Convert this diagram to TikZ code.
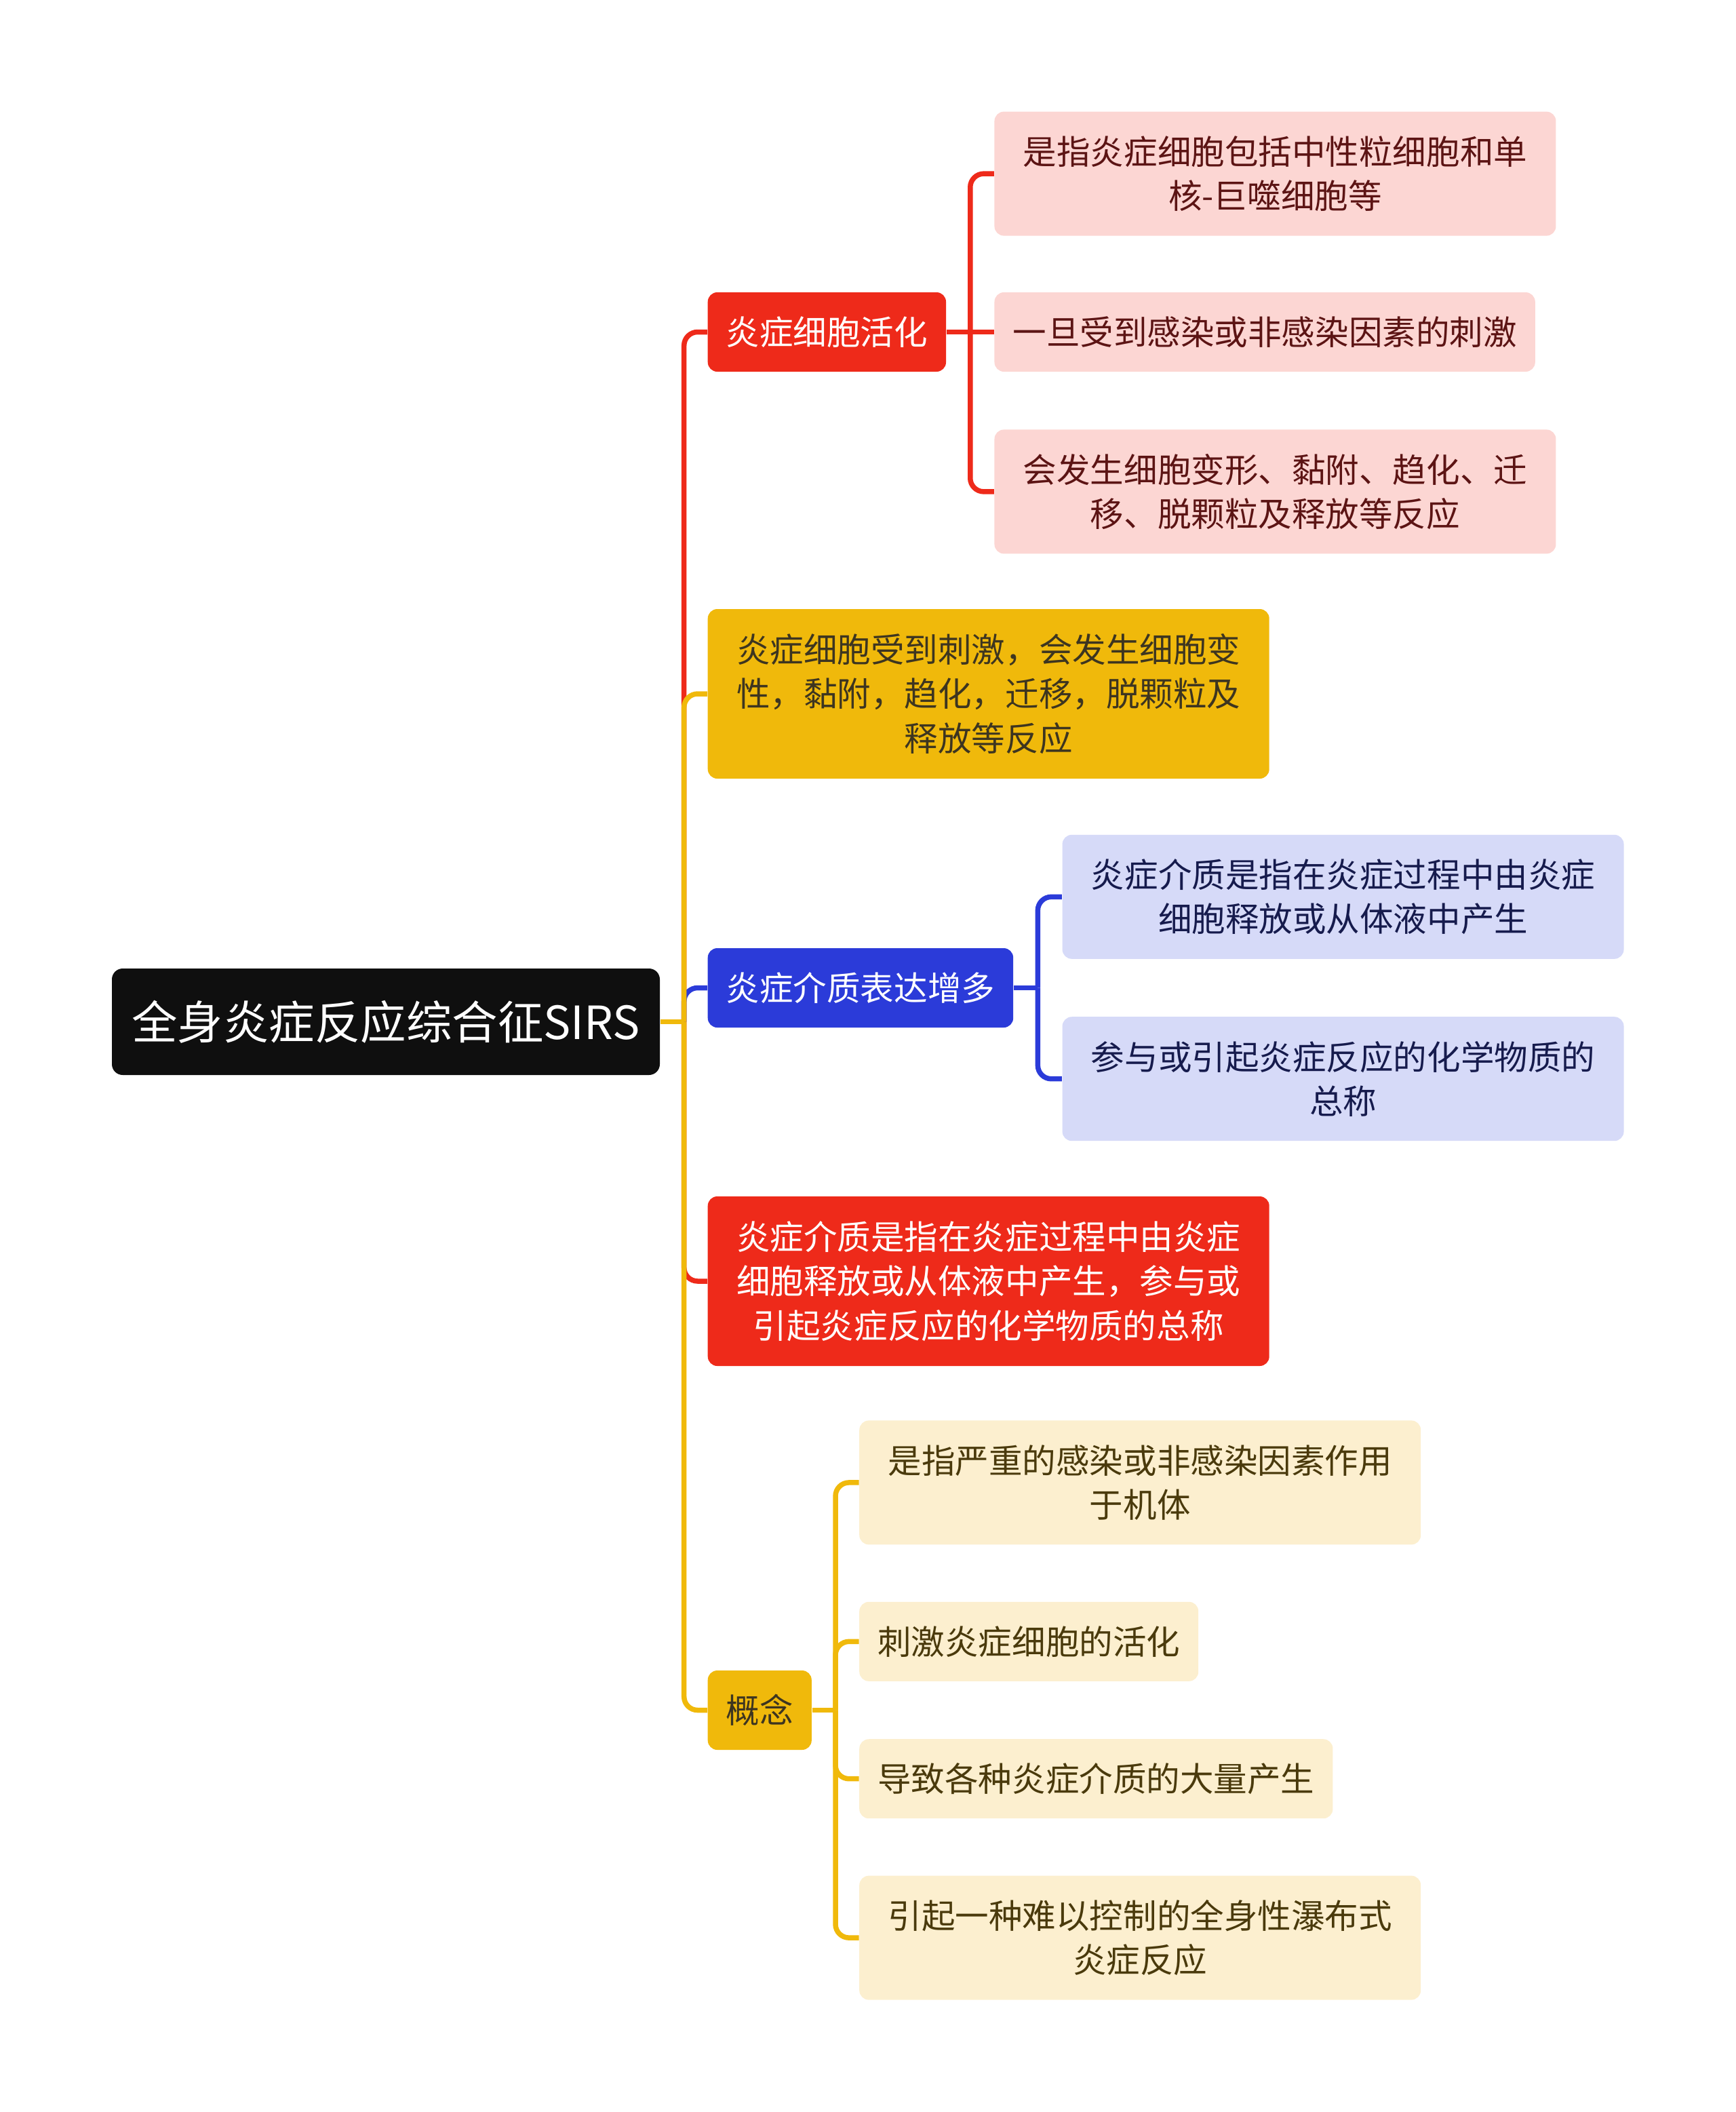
\documentclass[tikz,border=0pt]{standalone}
\usepackage{fontspec}
\setmainfont{Noto Sans CJK SC}
\usepackage{tikz}
\usetikzlibrary{positioning}

\definecolor{redc}{HTML}{EE2A1A}
\definecolor{yellowc}{HTML}{F0B90B}
\definecolor{bluec}{HTML}{2B3BD9}
\definecolor{rootc}{HTML}{0F0F0F}
\definecolor{pinkc}{HTML}{FCD6D3}
\definecolor{lavc}{HTML}{D6DAF8}
\definecolor{creamc}{HTML}{FCEFCF}
\definecolor{pinktext}{HTML}{5C1414}
\definecolor{lavtext}{HTML}{161B4D}
\definecolor{creamtext}{HTML}{4A3A0C}
\definecolor{darktext}{HTML}{3D3520}

\begin{document}
\begin{tikzpicture}[
    node distance=0.83cm and 0.70cm,
    every node/.style={font=\fontsize{14.1pt}{18.6pt}\selectfont},
    card/.style={rounded corners=0.14cm, align=center, inner xsep=0.27cm, inner ysep=0.1cm, minimum height=1.17cm},
    wide/.style={minimum width=8.28cm},
    lines2/.style={minimum height=1.83cm},
    lines3/.style={minimum height=2.5cm},
    central/.style={card, fill=rootc, text=white, font=\fontsize{19.2pt}{24pt}\selectfont, minimum width=8.08cm, minimum height=1.57cm, rounded corners=0.16cm},
    redtopic/.style={card, fill=redc, text=white},
    yellowtopic/.style={card, fill=yellowc, text=darktext},
    bluetopic/.style={card, fill=bluec, text=white},
    pinkleaf/.style={card, fill=pinkc, text=pinktext},
    lavleaf/.style={card, fill=lavc, text=lavtext},
    creamleaf/.style={card, fill=creamc, text=creamtext},
    link/.style={line width=0.075cm, rounded corners=0.2cm}
]
\useasboundingbox (0,0) rectangle (25.6,-31.14);

% centre and first level
\node[central] (sirs) at (5.69,-15.065) {全身炎症反应综合征SIRS};
\node[redtopic, anchor=west] (act) at (10.43,-4.895) {炎症细胞活化};
\node[yellowtopic, wide, lines3, anchor=west] (stim) at (10.43,-10.23) {炎症细胞受到刺激，会发生细胞变\\性，黏附，趋化，迁移，脱颗粒及\\释放等反应};
\node[bluetopic, anchor=west] (med) at (10.43,-14.565) {炎症介质表达增多};
\node[redtopic, wide, lines3, anchor=west] (def) at (10.43,-18.89) {炎症介质是指在炎症过程中由炎症\\细胞释放或从体液中产生，参与或\\引起炎症反应的化学物质的总称};
\node[yellowtopic, anchor=west] (concept) at (10.43,-25.215) {概念};

% second level
\node[pinkleaf, right=of act] (a2) {一旦受到感染或非感染因素的刺激};
\node[pinkleaf, wide, lines2, above right=0.82cm and 0cm of a2.north west] (a1) {是指炎症细胞包括中性粒细胞和单\\核-巨噬细胞等};
\node[pinkleaf, wide, lines2, below right=0.84cm and 0cm of a2.south west] (a3) {会发生细胞变形、黏附、趋化、迁\\移、脱颗粒及释放等反应};

\node[lavleaf, wide, lines2, above right=0.42cm and 0.71cm of med.east] (m1) {炎症介质是指在炎症过程中由炎症\\细胞释放或从体液中产生};
\node[lavleaf, wide, lines2, below right=0.42cm and 0.71cm of med.east] (m2) {参与或引起炎症反应的化学物质的\\总称};

\node[creamleaf, above right=0.42cm and 0.69cm of concept.east] (c2) {刺激炎症细胞的活化};
\node[creamleaf, below right=0.42cm and 0.69cm of concept.east] (c3) {导致各种炎症介质的大量产生};
\node[creamleaf, wide, lines2, above right=0.83cm and 0cm of c2.north west] (c1) {是指严重的感染或非感染因素作用\\于机体};
\node[creamleaf, wide, lines2, below right=0.83cm and 0cm of c3.south west] (c4) {引起一种难以控制的全身性瀑布式\\炎症反应};

% connectors from the centre
\coordinate (sirsfork) at ([xshift=0.35cm]sirs.east);
\draw[link, redc] (sirsfork) |- (act.west);
\draw[link, bluec] (sirsfork) |- (med.west);
\draw[link, redc] (sirsfork) |- (def.west);
\draw[link, yellowc] (sirsfork) |- (stim.west);
\draw[link, yellowc] (sirsfork) |- (concept.west);
\draw[link, yellowc] (sirs.east) -- (sirsfork);

% connectors to the leaves
\coordinate (actfork) at ([xshift=0.35cm]act.east);
\draw[link, redc] (act.east) -- (a2.west);
\draw[link, redc] (actfork) |- (a1.west);
\draw[link, redc] (actfork) |- (a3.west);

\coordinate (medfork) at ([xshift=0.355cm]med.east);
\draw[link, bluec] (med.east) -- (medfork);
\draw[link, bluec] (medfork) |- (m1.west);
\draw[link, bluec] (medfork) |- (m2.west);

\coordinate (conceptfork) at ([xshift=0.345cm]concept.east);
\draw[link, yellowc] (concept.east) -- (conceptfork);
\draw[link, yellowc] (conceptfork) |- (c1.west);
\draw[link, yellowc] (conceptfork) |- (c2.west);
\draw[link, yellowc] (conceptfork) |- (c3.west);
\draw[link, yellowc] (conceptfork) |- (c4.west);
\end{tikzpicture}
\end{document}
